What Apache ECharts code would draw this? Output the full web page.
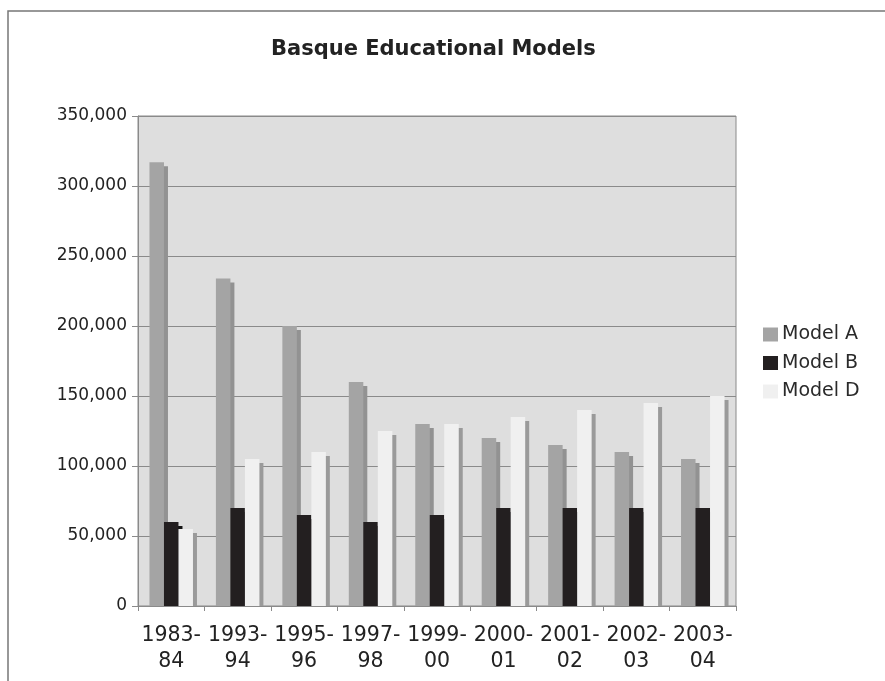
<!DOCTYPE html>
<html>
<head>
<meta charset="utf-8">
<script src="https://cdn.jsdelivr.net/npm/echarts@6/dist/echarts.min.js"></script>
<style>
html,body{margin:0;padding:0;background:#fff;}
#chart{width:885px;height:681px;}
</style>
</head>
<body>
<div id="chart"></div>
<script>
var categories = ['1983-\n84','1993-\n94','1995-\n96','1997-\n98','1999-\n00','2000-\n01','2001-\n02','2002-\n03','2003-\n04'];
var modelA = [317000, 234000, 200000, 160000, 130000, 120000, 115000, 110000, 105000];
var modelB = [60000, 70000, 65000, 60000, 65000, 70000, 70000, 70000, 70000];
var modelD = [55000, 105000, 110000, 125000, 130000, 135000, 140000, 145000, 150000];
var yTicks = [0, 50000, 100000, 150000, 200000, 250000, 300000, 350000];

function fmt(v){
  var s = String(Math.round(v));
  return s.replace(/\B(?=(\d{3})+(?!\d))/g, ',');
}

var chart = echarts.init(document.getElementById('chart'));
var FONT = 'DejaVu Sans';
function barSeries(name, data, color, shadow){
  return {
    name: name, type: 'bar', data: data,
    barWidth: 14.5, barGap: '0%',
    itemStyle: {color: color, shadowColor: shadow, shadowOffsetX: 4, shadowOffsetY: 4, shadowBlur: 0},
    emphasis: {disabled: true},
    z: 2
  };
}
chart.setOption({
  animation: false,
  backgroundColor: '#ffffff',
  title: {
    text: 'Basque Educational Models',
    left: 266, top: 33,
    textStyle: {fontFamily: FONT, fontSize: 21, fontWeight: 'bold', color: '#222', lineHeight: 24}
  },
  legend: {
    orient: 'vertical', left: 758, top: 320,
    itemWidth: 15, itemHeight: 14, itemGap: 9.5,
    icon: 'rect',
    itemStyle: {shadowBlur: 0, shadowOffsetX: 0, shadowOffsetY: 0, shadowColor: 'rgba(0,0,0,0)'},
    textStyle: {fontFamily: FONT, fontSize: 19, color: '#2a2a2a', padding: [0,0,0,-1]},
    data: ['Model A','Model B','Model D']
  },
  grid: {
    left: 138, right: 149, top: 116, bottom: 75,
    show: true, backgroundColor: '#dedede', borderColor: '#8a8a8a', borderWidth: 1
  },
  xAxis: {
    type: 'category', data: categories, z: 5,
    axisLine: {lineStyle: {color: '#8a8a8a'}},
    axisTick: {show: true, length: 5, lineStyle: {color: '#8a8a8a'}},
    axisLabel: {interval: 0, margin: 17, fontFamily: FONT, fontSize: 20.5, color: '#222', lineHeight: 26}
  },
  yAxis: {
    type: 'value', min: yTicks[0], max: yTicks[yTicks.length-1], interval: yTicks[1]-yTicks[0],
    axisLine: {show: true, lineStyle: {color: '#8a8a8a'}},
    axisTick: {show: true, length: 6, lineStyle: {color: '#8a8a8a'}},
    splitLine: {show: true, lineStyle: {color: '#8a8a8a', width: 1}},
    axisLabel: {margin: 11, fontFamily: FONT, fontSize: 17, color: '#222', formatter: fmt}
  },
  graphic: [
    {type: 'rect', z: 3, silent: true, shape: {x: 139, y: 606.5, width: 600, height: 6}, style: {fill: '#ffffff'}},
    {type: 'rect', z: 0, silent: true, shape: {x: 8, y: 11, width: 900, height: 700}, style: {fill: 'none', stroke: '#777', lineWidth: 1.5}}
  ],
  series: [
    barSeries('Model A', modelA, '#a4a4a4', '#929292'),
    barSeries('Model B', modelB, '#231f20', '#151515'),
    barSeries('Model D', modelD, '#f0f0f0', '#9a9a9a')
  ]
});
</script>
</body>
</html>
